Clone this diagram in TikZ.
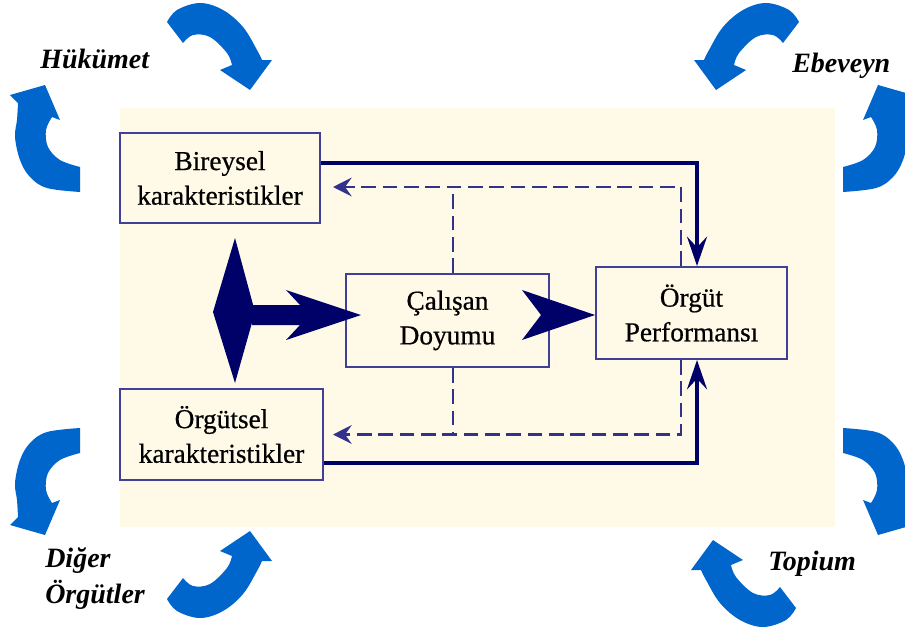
\documentclass[tikz,border=0pt]{standalone}
\usepackage{fontspec}
\setmainfont{Liberation Serif}
\newfontfamily\boxfont{Liberation Serif}[FakeBold=0.6]
\usetikzlibrary{arrows.meta,calc}
\definecolor{bluearr}{RGB}{0,102,204}
\definecolor{creamc}{RGB}{255,249,232}
\definecolor{boxline}{RGB}{64,64,150}
\definecolor{navyc}{RGB}{0,0,105}
\definecolor{dashc}{RGB}{50,50,140}
\newcommand\drawBlueA{\fill[bluearr] plot[smooth,tension=0.6] coordinates {(167,22) (177,10) (200,3) (223,10) (243,27) (257,50) (262,60)} -- (272,60) -- (250,90) -- (220,70) -- (232,65) -- plot[smooth,tension=0.6] coordinates {(232,65) (227,53) (210,37) (193,35) (183,43)} -- cycle;}
\newcommand\drawBlueB{\fill[bluearr] plot[smooth,tension=0.6] coordinates {(52,117) (46,130) (48,147) (60,160) (80,167)} -- (80,192) -- plot[smooth,tension=0.6] coordinates {(80,192) (47,188) (30,177) (20,160) (15,137) (17,120) (18,103)} -- (10,95) -- (45,85) -- (60,120) -- cycle;}
\begin{document}
\begin{tikzpicture}[x=0.75pt,y=-0.75pt,
  box/.style={draw=boxline, line width=1.5pt, fill=creamc, align=center, font=\boxfont\fontsize{20.5}{26}\selectfont, inner sep=0pt},
  solidconn/.style={draw=navyc, line width=2.6pt, -{Stealth[length=22pt,width=15pt,inset=8pt]}},
  dashconn/.style={draw=dashc, line width=1.8pt, dash pattern=on 11pt off 5pt},
  dashtip/.style={-{Stealth[length=14pt,width=14pt,inset=5pt]}},
  lab/.style={font=\fontsize{21}{26}\selectfont\bfseries\itshape, anchor=base west, inner sep=0pt},
  bigarrow/.style={fill=navyc}]
\useasboundingbox (0,0) rectangle (905,628);
\fill[white] (0,0) rectangle (905,628);
\fill[creamc] (120,108) rectangle (835,527);
% blue circular arrows
\drawBlueA
\drawBlueB
\begin{scope}[shift={(966,0)},xscale=-1]\drawBlueA\end{scope}
\begin{scope}[shift={(923,0)},xscale=-1]\drawBlueB\end{scope}
\begin{scope}[shift={(0,620)},yscale=-1]\drawBlueB\end{scope}
\begin{scope}[shift={(0,621)},yscale=-1]\drawBlueA\end{scope}
\begin{scope}[shift={(923,620)},xscale=-1,yscale=-1]\drawBlueB\end{scope}
\begin{scope}[shift={(963,630)},xscale=-1,yscale=-1]\drawBlueA\end{scope}
% labels
\node[lab] (huk) at (40,68) {Hükümet};
\node[lab] (ebe) at (792,72) {Ebeveyn};
\node[lab] (dig) at (45,567) {Diğer};
\node[lab] (orgl) at (45,603) {Örgütler};
\node[lab] (topium) at (768,570) {Topium};
% boxes
\node[box, minimum width=150pt, minimum height=67.5pt] (bir) at (220,178) {Bireysel\\karakteristikler};
\node[box, minimum width=152.25pt, minimum height=68.25pt] (org) at (221.5,434.5) {Örgütsel\\karakteristikler};
\node[box, minimum width=152.25pt, minimum height=69.75pt] (cal) at (447.5,320.5) {Çalışan\\Doyumu};
\node[box, minimum width=143.25pt, minimum height=69pt] (perf) at (691.5,313) {Örgüt\\Performansı};
% solid connectors
\draw[solidconn] ([yshift=11.25pt]bir.east) -| ([xshift=4.125pt]perf.north);
\draw[solidconn] ([yshift=-21.375pt]org.east) -| ([xshift=4.125pt]perf.south);
% dashed connectors
\coordinate (calN) at ([xshift=4.125pt]cal.north);
\coordinate (calS) at ([xshift=4.125pt]cal.south);
\coordinate (birD) at ([yshift=-6.75pt]bir.east);
\draw[dashconn, dashtip, shorten >=9pt] ([xshift=-7.875pt]perf.north) |- (birD);
\draw[dashconn] (calN) -- (calN |- birD);
\draw[dashconn, dashtip, shorten >=6.75pt] ([xshift=-7.875pt]perf.south) |- (org.east);
\draw[dashconn] (calS) -- (calS |- org.east);
% big arrows
\fill[bigarrow] (235,238) -- (255,312) -- (235,383) -- (213,312) -- cycle;
\coordinate (tipA) at ($(cal.west)+(16,-5.5)$);
\begin{scope}[shift={(tipA)}]
\fill[bigarrow] (-109,-10) -- (-61,-10) -- (-75,-25) -- (0,0) -- (-75,25) -- (-61,10) -- (-109,10) -- cycle;
\end{scope}
\coordinate (tipB) at ($(perf.west)+(0,2)$);
\begin{scope}[shift={(tipB)}]
\fill[bigarrow] (0,0) -- (-73,-25) -- (-54,0) -- (-73,25) -- cycle;
\end{scope}
\end{tikzpicture}
\end{document}
